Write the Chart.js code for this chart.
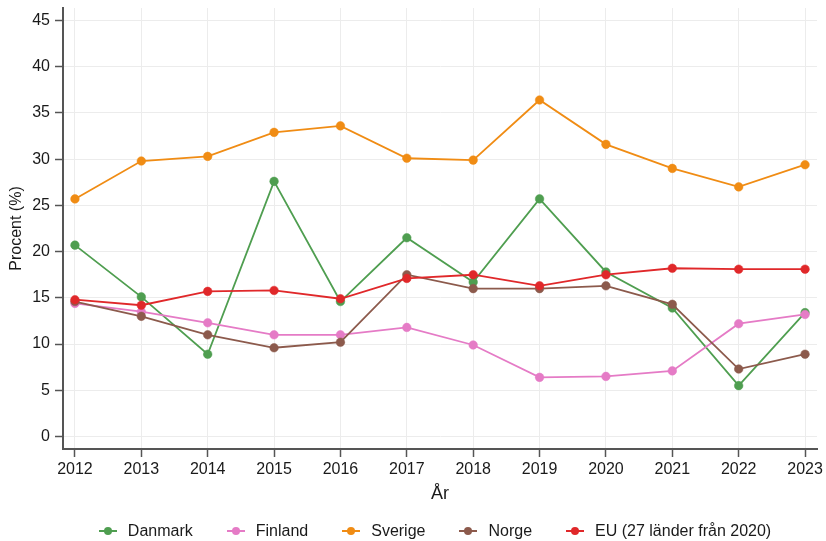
<!DOCTYPE html>
<html lang="sv">
<head>
<meta charset="utf-8">
<title>Procent per år</title>
<script src="https://cdn.jsdelivr.net/npm/chart.js@4"></script>
<style>
  html, body { margin: 0; padding: 0; background: #fff; }
  #wrap { position: relative; width: 826px; height: 541px; }
  #legend {
    position: absolute; left: 0; top: 519px; width: 826px; height: 24px;
    display: flex; justify-content: center; align-items: center;
    font: 16px "Liberation Sans", Arial, sans-serif; color: #1a1a1a;
    padding-left: 44px; box-sizing: border-box;
  }
  .item { display: flex; align-items: center; margin: 0 17px; }
  .mark { position: relative; width: 18px; height: 8px; margin-right: 11px; }
  .mark::before { content: ""; position: absolute; left: 0; right: 0; top: 3px; height: 2px; background: var(--c); }
  .mark::after { content: ""; position: absolute; left: 5px; top: 0; width: 8px; height: 8px; border-radius: 50%; background: var(--c); }
</style>
</head>
<body>
<div id="wrap">
  <canvas id="chart" width="826" height="541"></canvas>
  <div id="legend"></div>
</div>
<script>
const years = [2012, 2013, 2014, 2015, 2016, 2017, 2018, 2019, 2020, 2021, 2022, 2023];

const danmark = [20.7, 15.1, 8.9, 27.6, 14.6, 21.5, 16.7, 25.7, 17.8, 13.9, 5.5, 13.4];
const finland = [14.4, 13.5, 12.3, 11.0, 11.0, 11.8, 9.9, 6.4, 6.5, 7.1, 12.2, 13.2];
const sverige = [25.7, 29.8, 30.3, 32.9, 33.6, 30.1, 29.9, 36.4, 31.6, 29.0, 27.0, 29.4];
const norge = [14.6, 13.0, 11.0, 9.6, 10.2, 17.5, 16.0, 16.0, 16.3, 14.3, 7.3, 8.9];
const eu = [14.8, 14.2, 15.7, 15.8, 14.9, 17.1, 17.5, 16.3, 17.5, 18.2, 18.1, 18.1];

const seriesNames = ["Danmark", "Finland", "Sverige", "Norge", "EU (27 länder från 2020)"];
const seriesValues = [danmark, finland, sverige, norge, eu];
const seriesColors = ["#4f9e50", "#e57bc6", "#f08c14", "#8c5a4c", "#e0282a"];

const yTicks = [0, 5, 10, 15, 20, 25, 30, 35, 40, 45];

const font = "'Liberation Sans', Arial, sans-serif";
const axisColor = "#555555";
const gridColor = "#ececec";

const datasets = seriesValues.map(function (vals, i) {
  return {
    label: seriesNames[i],
    data: vals.map(function (v, j) { return { x: years[j], y: v }; }),
    borderColor: seriesColors[i],
    backgroundColor: seriesColors[i],
    pointBackgroundColor: seriesColors[i],
    pointBorderColor: seriesColors[i],
    borderWidth: 1.8,
    pointRadius: 4.3,
    pointBorderWidth: 0.5,
    tension: 0,
    // later series drawn on top
    order: seriesNames.length - i
  };
});

new Chart(document.getElementById("chart"), {
  type: "line",
  data: { datasets: datasets },
  options: {
    responsive: false,
    animation: false,
    layout: { padding: { top: 8, right: 9, left: 0, bottom: 36 } },
    plugins: {
      legend: { display: false },
      tooltip: { enabled: false }
    },
    scales: {
      x: {
        type: "linear",
        min: years[0] - 0.18,
        max: years[years.length - 1] + 0.18,
        afterBuildTicks: function (scale) {
          scale.ticks = years.map(function (y) { return { value: y }; });
        },
        afterFit: function (scale) { scale.height = 56; },
        ticks: {
          autoSkip: false,
          maxRotation: 0,
          padding: 3,
          color: "#1a1a1a",
          font: { family: font, size: 16 },
          callback: function (v) { return String(v); }
        },
        grid: {
          color: gridColor,
          tickColor: axisColor,
          tickLength: 8,
          tickWidth: 1.5
        },
        border: { color: axisColor, width: 2 },
        title: {
          display: true,
          text: "År",
          color: "#1a1a1a",
          font: { family: font, size: 18 },
          padding: { top: 0, bottom: 0 }
        }
      },
      y: {
        min: -1.35,
        max: 46.35,
        afterBuildTicks: function (scale) {
          scale.ticks = yTicks.map(function (v) { return { value: v }; });
        },
        afterFit: function (scale) {
          scale.width = 63;
          scale.paddingTop = 0;
          scale.paddingBottom = 0;
        },
        ticks: {
          padding: 5,
          color: "#1a1a1a",
          font: { family: font, size: 16 }
        },
        grid: {
          color: gridColor,
          tickColor: axisColor,
          tickLength: 8,
          tickWidth: 1.5
        },
        border: { color: axisColor, width: 2 },
        title: {
          display: true,
          text: "Procent (%)",
          color: "#1a1a1a",
          font: { family: font, size: 16 },
          padding: { top: 7, bottom: 0 }
        }
      }
    }
  }
});

const legend = document.getElementById("legend");
seriesNames.forEach(function (name, i) {
  const item = document.createElement("div");
  item.className = "item";
  item.innerHTML = '<span class="mark" style="--c:' + seriesColors[i] + '"></span>' + name;
  legend.appendChild(item);
});
</script>
</body>
</html>
